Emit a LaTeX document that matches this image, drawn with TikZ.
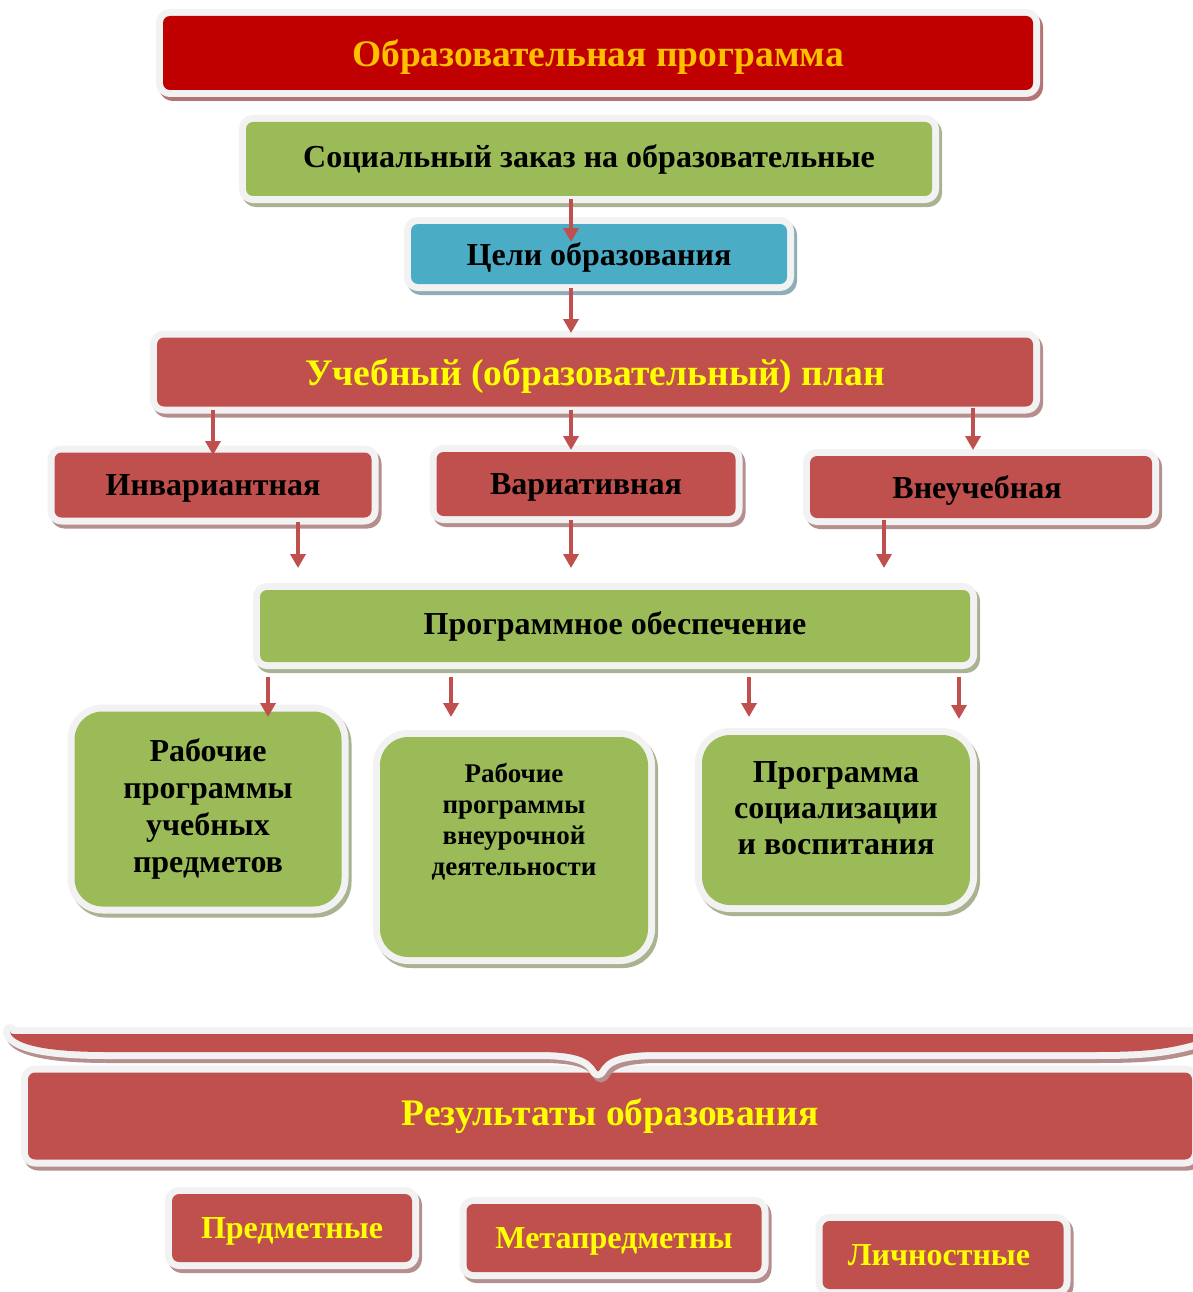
\documentclass[tikz,border=0pt]{standalone}
\usepackage{fontspec}
\setmainfont{Liberation Serif}
\usetikzlibrary{arrows.meta, positioning}

\definecolor{darkred}{HTML}{C00000}
\definecolor{gold}{HTML}{FFC000}
\definecolor{leaf}{HTML}{9BBB59}
\definecolor{sky}{HTML}{4BACC6}
\definecolor{brick}{HTML}{C0504D}
\definecolor{lemon}{HTML}{FFFF00}
\definecolor{framegray}{HTML}{F2F2F2}

\begin{document}
\begin{tikzpicture}[x=1pt, y=-1pt, line join=round,
    box/.style={fill=#1, rounded corners=7pt, inner sep=0pt, align=center,
      font=\bfseries\fontsize{32}{37}\selectfont,
      preaction={draw=#1!45!gray!75!white, line width=14pt, transform canvas={shift={(3pt,-4pt)}}},
      preaction={draw=framegray, line width=14pt}},
    big/.style={font=\bfseries\fontsize{37.5}{44}\selectfont},
    low/.style={text depth=0pt},
    arr/.style={draw=brick, line width=4pt, -{Triangle[width=15pt, length=14pt]}}]

    \useasboundingbox (0,0) rectangle (1192,1292);

    % Top part
    \node[box=darkred, big, low, text=gold, minimum width=870pt, minimum height=74pt] (prog) at (598,53) {Образовательная программа};
    \node[box=leaf, minimum width=686pt, minimum height=74pt] (zakaz) at (589,159) {Социальный заказ на образовательные};
    \node[box=sky, low, minimum width=376pt, minimum height=60pt] (celi) at (599,254) {Цели образования};
    \node[box=brick, big, low, text=lemon, minimum width=876pt, minimum height=69pt] (plan) at (595,372) {Учебный (образовательный) план};

    % Parts of the plan
    \foreach \name/\x/\y/\w/\h/\label in {
      inv/213/485/317/65/Инвариантная,
      var/586/484/299/64/Вариативная,
      vneuch/981/487/342/62/Внеучебная
    } {
      \node[box=brick, low, minimum width=\w pt, minimum height=\h pt] (\name) at (\x,\y) {\label};
    }

    \node[box=leaf, minimum width=710pt, minimum height=72pt] (obesp) at (615,626) {Программное обеспечение};

    % Programs
    \node[box=leaf, rounded corners=28pt, minimum width=267pt, minimum height=195pt] (rpu) at (208,809) {Рабочие\\программы\\учебных\\предметов};
    \node[box=leaf, rounded corners=28pt, minimum width=268pt, minimum height=220pt] (rpv) at (514,847) {};
    \node[below=26pt of rpv.north, inner sep=0pt, align=center, font=\bfseries\fontsize{27}{31}\selectfont] (rpvtext) {Рабочие\\программы\\внеурочной\\деятельности};
    \node[box=leaf, rounded corners=28pt, minimum width=268pt, minimum height=170pt] (rsv) at (836,820) {};
    \node[below=27pt of rsv.north, inner sep=0pt, align=center, font=\bfseries\fontsize{32}{36}\selectfont] (rsvtext) {Программа\\социализации\\и воспитания};

    % Results
    \node[box=brick, big, text=lemon, minimum width=1164pt, minimum height=87pt] (rez) at (610,1116) {Результаты образования};
    \foreach \name/\x/\y/\w/\label in {
      pred/292/1228/240/Предметные,
      meta/614/1238/295/Метапредметны,
      lich/943/1255/241/Личностные
    } {
      \node[box=brick, low, text=lemon, minimum width=\w pt, minimum height=68pt] (\name) at (\x,\y) {\label};
    }

    % Brace over the results
    \path[box=brick, rounded corners=3pt] (10,1034) -- (1200,1034) -- (1200,1040)
      .. controls (1160,1052) and (1130,1052) .. (1080,1052) -- (660,1052)
      .. controls (620,1052) and (606,1058) .. (598,1073)
      .. controls (590,1058) and (576,1052) .. (536,1052) -- (110,1052)
      .. controls (50,1052) and (22,1046) .. cycle;

    % Arrow tips
    \foreach \name/\x/\y in {t1/571/242, t2/571/333, t3/213/455, t4/571/450, t5/973/450,
      t6/298/568, t7/571/568, t8/884/568, t9/268/717, t10/451/717, t11/749/717, t12/959/719}
      \coordinate (\name) at (\x,\y);

    % Arrows
    \foreach \src/\tip/\gap in {zakaz/t1/3pt, celi/t2/4pt, plan/t3/3pt, plan/t4/3pt, plan/t5/1pt,
      inv/t6/4pt, var/t7/4pt, vneuch/t8/2pt, obesp/t9/15pt, obesp/t10/15pt, obesp/t11/15pt, obesp/t12/15pt}
      \draw[arr, shorten <=\gap] (\src.south -| \tip) -- (\tip);

\end{tikzpicture}
\end{document}
